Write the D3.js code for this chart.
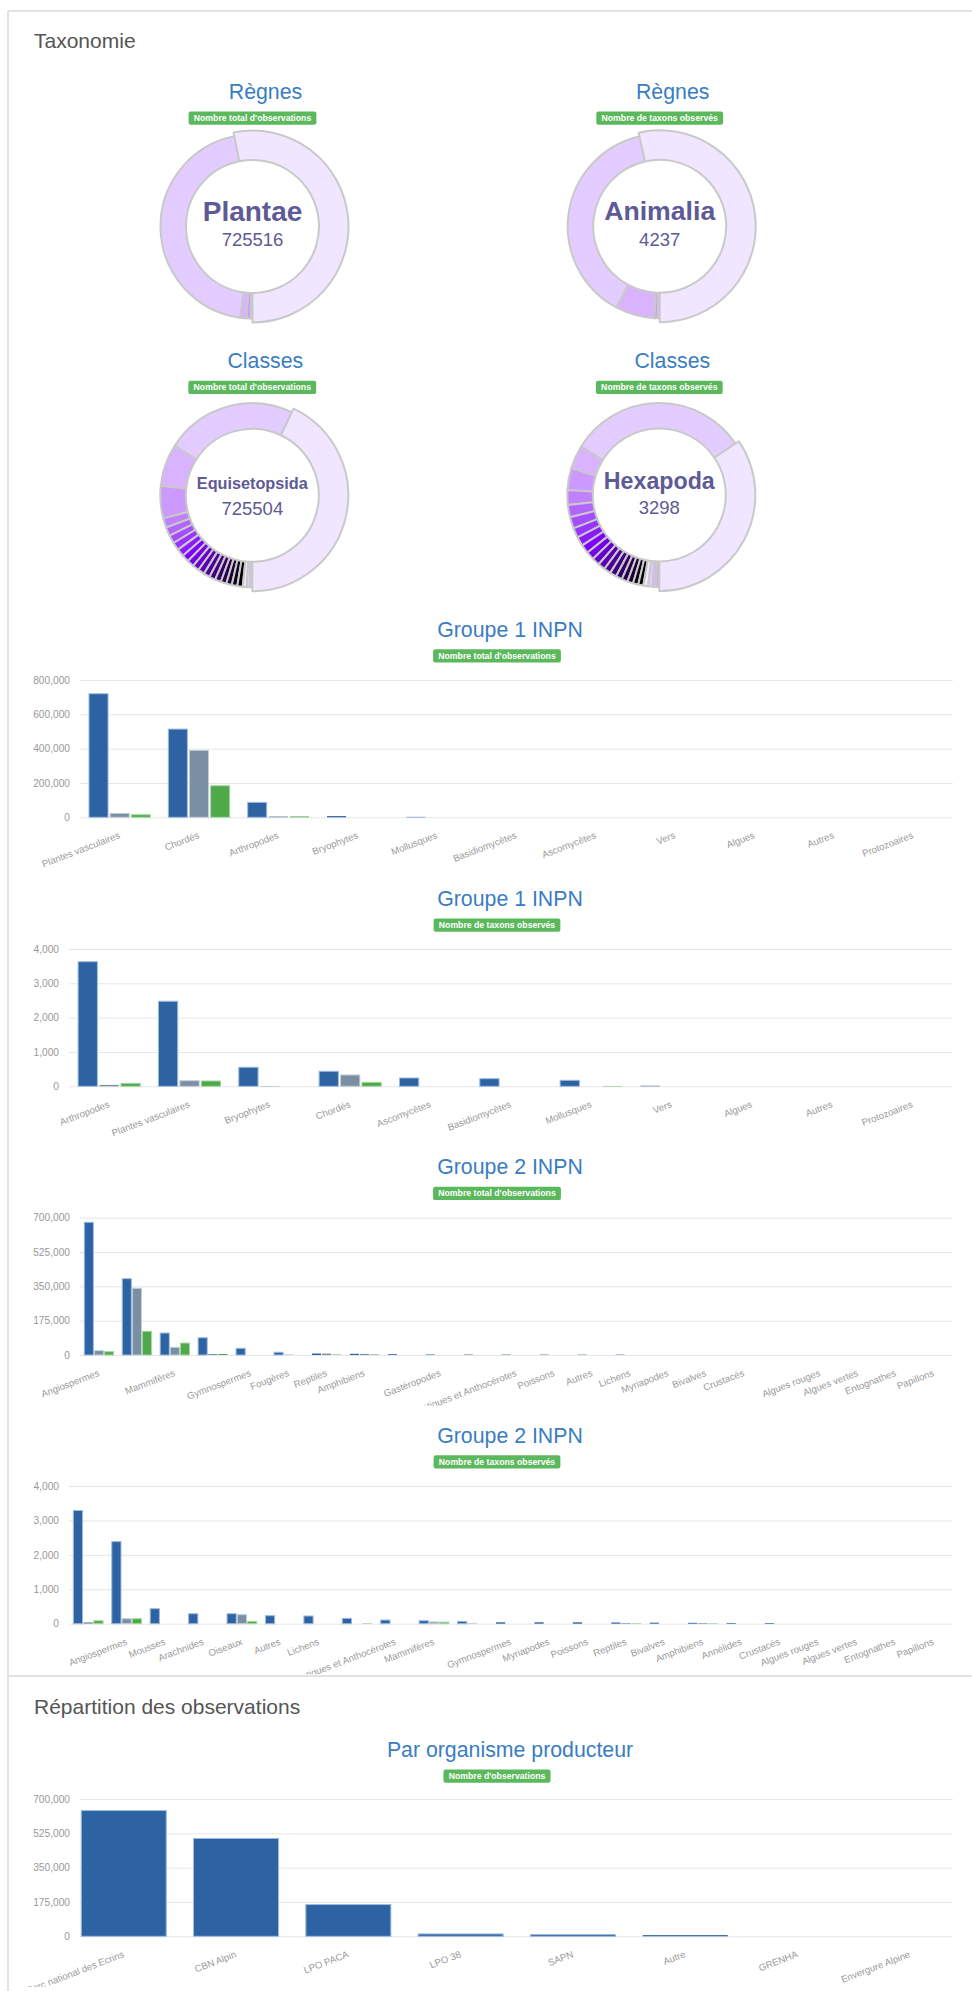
<!DOCTYPE html>
<html lang="fr">
<head>
<meta charset="utf-8">
<title>Taxonomie</title>
<script src="https://cdn.jsdelivr.net/npm/d3@7.9.0/dist/d3.min.js"></script>
<style>
  html, body { margin: 0; padding: 0; background: #fff; }
  svg { display: block; font-family: 'Liberation Sans', Arial, Helvetica, sans-serif; }
</style>
</head>
<body>
<svg id="page" width="972" height="1991"></svg>
<script>
const WIDTH = 972;
const HEIGHT = 1991;

const TITLE_COLOR = '#3a7dc2';
const CENTER_TEXT_COLOR = '#5d5a96';
const SERIES_COLORS = ['#2d62a3', '#7a8fa4', '#4ea94b'];
const SERIES_BORDERS = ['#9dbbe0', '#c3cdd8', '#a6d9a4'];
const PIE_COLORS = [
  '#f1e6ff', '#e3ccff', '#d9b3ff', '#cc99ff', '#c080ff', '#b366ff', '#a64dff',
  '#9933ff', '#8c1aff', '#8000ff', '#7300e6', '#6600cc', '#5900b3', '#4d0099',
  '#400080', '#330066', '#26004d', '#1a0033', '#0d001a', '#000000',
];

// Donuts (sorted descending, first slice = highlighted one)
const regnesObsValues = [725516, 610300, 15200, 9500, 4200];
const regnesTaxaValues = [4237, 3061, 543, 48, 26];
const classesObsValues = [
  725504, 388800, 126300, 95300, 28200, 25800, 24400, 23500, 22500, 21600, 20700,
  19700, 19300, 18800, 18300, 17800, 16900, 16400, 16400, 16000, 11700, 9400, 7000,
];
const classesTaxaValues = [
  3298, 3040, 394, 367, 247, 207, 192, 165, 154, 146, 138, 130, 122, 117, 112,
  106, 101, 96, 90, 85, 80, 74, 61, 51,
];

// Groupe 1 INPN
const groupe1ObsCategories = [
  'Plantes vasculaires', 'Chordés', 'Arthropodes', 'Bryophytes', 'Mollusques',
  'Basidiomycètes', 'Ascomycètes', 'Vers', 'Algues', 'Autres', 'Protozoaires',
];
const groupe1ObsBlue = [720000, 514000, 87000, 7000, 2500, 900, 500, 300, 100, 50, 10];
const groupe1ObsGray = [23000, 390000, 5000, 300, 300, 0, 0, 0, 0, 0, 0];
const groupe1ObsGreen = [15000, 184000, 5000, 200, 200, 0, 0, 0, 0, 0, 0];

const groupe1TaxaCategories = [
  'Arthropodes', 'Plantes vasculaires', 'Bryophytes', 'Chordés', 'Ascomycètes',
  'Basidiomycètes', 'Mollusques', 'Vers', 'Algues', 'Autres', 'Protozoaires',
];
const groupe1TaxaBlue = [3630, 2478, 554, 437, 242, 222, 175, 15, 6, 5, 2];
const groupe1TaxaGray = [40, 163, 10, 330, 0, 0, 0, 0, 0, 0, 0];
const groupe1TaxaGreen = [87, 155, 0, 117, 0, 0, 10, 0, 0, 0, 0];

// Groupe 2 INPN (some categories have no visible label)
const groupe2ObsCategories = [
  'Angiospermes', '', 'Mammifères', '', 'Gymnospermes', 'Fougères', 'Reptiles',
  'Amphibiens', '', 'Gastéropodes', '', 'Hépatiques et Anthocérotes', 'Poissons',
  'Autres', 'Lichens', 'Myriapodes', 'Bivalves', 'Crustacés', '', 'Algues rouges',
  'Algues vertes', 'Entognathes', 'Papillons',
];
const groupe2ObsBlue = [
  676500, 389000, 112000, 88000, 34000, 14000, 7500, 6000, 4000, 2500, 2200, 2000,
  1900, 1800, 1700, 800, 600, 500, 400, 300, 200, 100, 50,
];
const groupe2ObsGray = [
  22000, 340000, 39000, 5000, 500, 1700, 7000, 5500, 300, 200, 100, 100, 100, 100,
  100, 0, 0, 0, 0, 0, 0, 0, 0,
];
const groupe2ObsGreen = [
  17000, 121000, 61000, 5000, 500, 200, 2000, 2500, 100, 100, 0, 0, 0, 0, 0, 0, 0,
  0, 0, 0, 0, 0, 0,
];

const groupe2TaxaCategories = [
  '', 'Angiospermes', 'Mousses', 'Arachnides', 'Oiseaux', 'Autres', 'Lichens', '',
  'Hépatiques et Anthocérotes', 'Mammifères', '', 'Gymnospermes', 'Myriapodes',
  'Poissons', 'Reptiles', 'Bivalves', 'Amphibiens', 'Annélides', 'Crustacés',
  'Algues rouges', 'Algues vertes', 'Entognathes', 'Papillons',
];
const groupe2TaxaBlue = [
  3290, 2384, 436, 290, 290, 233, 224, 155, 107, 87, 67, 40, 40, 40, 35, 30, 25,
  20, 20, 3, 2, 2, 1,
];
const groupe2TaxaGray = [40, 145, 0, 0, 262, 0, 0, 0, 0, 50, 10, 0, 0, 0, 20, 0, 20, 0, 0, 0, 0, 0, 0];
const groupe2TaxaGreen = [87, 145, 0, 0, 67, 0, 0, 10, 0, 45, 0, 0, 0, 0, 10, 0, 10, 0, 0, 0, 0, 0, 0];

// Par organisme producteur
const organismeCategories = [
  'Parc national des Ecrins', 'CBN Alpin', 'LPO PACA', 'LPO 38', 'SAPN', 'Autre',
  'GRENHA', 'Envergure Alpine',
];
const organismeValues = [641000, 499000, 162000, 12000, 9000, 6000, 300, 100];

const ticksObs1 = [0, 200000, 400000, 600000, 800000];
const ticksObs2 = [0, 175000, 350000, 525000, 700000];
const ticksTaxa = [0, 1000, 2000, 3000, 4000];

const svg = d3.select('#page');
let clipCount = 0;

function drawPanels() {
  const lines = [
    [8, 11, WIDTH, 11],
    [8, 11, 8, 1676],
    [8, 1676, WIDTH, 1676],
    [8, 1676, 8, HEIGHT],
  ];
  svg.append('g')
    .selectAll('line')
    .data(lines)
    .join('line')
    .attr('x1', (d) => d[0])
    .attr('y1', (d) => d[1])
    .attr('x2', (d) => d[2])
    .attr('y2', (d) => d[3])
    .attr('stroke', '#e2e2e2')
    .attr('stroke-width', 2);
}

function drawHeading(y, text) {
  svg.append('text')
    .attr('x', 34)
    .attr('y', y)
    .attr('font-size', 21)
    .attr('fill', '#555')
    .text(text);
}

function drawTitle(cx, baseline, text) {
  svg.append('text')
    .attr('x', cx)
    .attr('y', baseline)
    .attr('text-anchor', 'middle')
    .attr('font-size', 21.3)
    .attr('fill', TITLE_COLOR)
    .text(text);
}

function drawBadge(cx, top, text) {
  const g = svg.append('g');
  const label = g.append('text')
    .attr('x', cx)
    .attr('y', top + 9.3)
    .attr('text-anchor', 'middle')
    .attr('font-size', 8.7)
    .attr('font-weight', 'bold')
    .attr('fill', '#fff')
    .text(text);
  const w = label.node().getComputedTextLength() + 10.4;
  g.insert('rect', 'text')
    .attr('x', cx - w / 2)
    .attr('y', top)
    .attr('width', w)
    .attr('height', 13.3)
    .attr('rx', 2.2)
    .attr('fill', '#5cb85c');
}

function drawDonut({ cx, cy, titleBaseline, title, badge, values, label, count }) {
  drawTitle(cx + 13, titleBaseline, title);
  drawBadge(cx, titleBaseline + 12.5, badge);

  const pie = d3.pie().sort(null).startAngle(Math.PI).endAngle(-Math.PI);
  const slices = pie(values);
  const arc = d3.arc().innerRadius(66.5);
  const g = svg.append('g').attr('transform', `translate(${cx},${cy})`);

  g.selectAll('path')
    .data(slices.slice(1).concat(slices.slice(0, 1)))
    .join('path')
    .attr('d', (d) => arc.outerRadius(d.index === 0 ? 96 : 92)(d))
    .attr('fill', (d) => PIE_COLORS[d.index % PIE_COLORS.length])
    .attr('stroke', '#c9c9c9')
    .attr('stroke-width', 2)
    .attr('stroke-linejoin', 'round');

  const name = g.append('text')
    .attr('y', -6)
    .attr('text-anchor', 'middle')
    .attr('font-size', 28)
    .attr('font-weight', 'bold')
    .attr('fill', CENTER_TEXT_COLOR)
    .text(label);
  const nameWidth = name.node().getComputedTextLength();
  if (nameWidth > 111) {
    name.attr('font-size', (28 * 111) / nameWidth);
  }

  g.append('text')
    .attr('y', 19.3)
    .attr('text-anchor', 'middle')
    .attr('font-size', 18.5)
    .attr('fill', CENTER_TEXT_COLOR)
    .text(count);
}

function drawBarChart({
  titleBaseline, title, badge, categories, series, ticks, top, bottom, left,
  right = 952.7, barRange = [left, right], barPadding = 0.2,
}) {
  drawTitle(510, titleBaseline, title);
  drawBadge(497, titleBaseline + 12.5, badge);

  const y = d3.scaleLinear().domain([0, d3.max(ticks)]).range([bottom, top]);
  const x0 = d3.scaleBand()
    .domain(d3.range(categories.length))
    .range(barRange)
    .paddingInner(barPadding)
    .paddingOuter(barPadding / 2);
  const x1 = d3.scaleBand()
    .domain(d3.range(series.length))
    .range([0, x0.bandwidth()])
    .paddingInner(series.length > 1 ? 0.1 : 0)
    .paddingOuter(series.length > 1 ? 0.05 : 0);

  const axis = svg.append('g')
    .attr('transform', `translate(${left},0)`)
    .call(
      d3.axisLeft(y)
        .tickValues(ticks)
        .tickFormat(d3.format(','))
        .tickSize(-(right - left))
        .tickPadding(10),
    );
  axis.select('.domain').remove();
  axis.selectAll('line').attr('stroke', '#e6e6e6');
  axis.selectAll('text')
    .attr('fill', '#999')
    .attr('font-size', 10.2)
    .attr('font-family', "'Liberation Sans', Arial, sans-serif");

  const bars = series.flatMap((values, s) =>
    values.map((value, i) => ({ value, i, s })),
  ).filter((d) => bottom - y(d.value) >= 0.3);

  svg.append('g')
    .selectAll('rect')
    .data(bars)
    .join('rect')
    .attr('x', (d) => x0(d.i) + x1(d.s))
    .attr('y', (d) => y(d.value))
    .attr('width', x1.bandwidth())
    .attr('height', (d) => bottom - y(d.value))
    .attr('fill', (d) => SERIES_COLORS[d.s])
    .attr('stroke', (d) => (bottom - y(d.value) >= 1.5 ? SERIES_BORDERS[d.s] : 'none'))
    .attr('stroke-width', 1);

  clipCount += 1;
  const clipId = `labels-clip-${clipCount}`;
  svg.append('clipPath')
    .attr('id', clipId)
    .append('rect')
    .attr('x', 0)
    .attr('y', bottom)
    .attr('width', WIDTH)
    .attr('height', 50.5);

  svg.append('g')
    .attr('clip-path', `url(#${clipId})`)
    .selectAll('text')
    .data(categories)
    .join('text')
    .attr('transform', (d, i) =>
      `translate(${x0(i) + x0.bandwidth() / 2 + 1},${bottom + 20.5}) rotate(-21)`)
    .attr('text-anchor', 'end')
    .attr('font-size', 9.6)
    .attr('fill', '#999')
    .text((d) => d);
}

drawPanels();
drawHeading(48, 'Taxonomie');

drawDonut({
  cx: 252.5, cy: 226.5, titleBaseline: 99, title: 'Règnes',
  badge: "Nombre total d'observations", values: regnesObsValues,
  label: 'Plantae', count: '725516',
});
drawDonut({
  cx: 659.7, cy: 226.3, titleBaseline: 99, title: 'Règnes',
  badge: 'Nombre de taxons observés', values: regnesTaxaValues,
  label: 'Animalia', count: '4237',
});
drawDonut({
  cx: 252.3, cy: 495.3, titleBaseline: 368.3, title: 'Classes',
  badge: "Nombre total d'observations", values: classesObsValues,
  label: 'Equisetopsida', count: '725504',
});
drawDonut({
  cx: 659.3, cy: 495, titleBaseline: 368.3, title: 'Classes',
  badge: 'Nombre de taxons observés', values: classesTaxaValues,
  label: 'Hexapoda', count: '3298',
});

drawBarChart({
  titleBaseline: 636.7, title: 'Groupe 1 INPN', badge: "Nombre total d'observations",
  categories: groupe1ObsCategories,
  series: [groupe1ObsBlue, groupe1ObsGray, groupe1ObsGreen],
  ticks: ticksObs1, top: 680, bottom: 817.3, left: 80,
});
drawBarChart({
  titleBaseline: 906, title: 'Groupe 1 INPN', badge: 'Nombre de taxons observés',
  categories: groupe1TaxaCategories,
  series: [groupe1TaxaBlue, groupe1TaxaGray, groupe1TaxaGreen],
  ticks: ticksTaxa, top: 949, bottom: 1086.3, left: 69,
});
drawBarChart({
  titleBaseline: 1174.3, title: 'Groupe 2 INPN', badge: "Nombre total d'observations",
  categories: groupe2ObsCategories,
  series: [groupe2ObsBlue, groupe2ObsGray, groupe2ObsGreen],
  ticks: ticksObs2, top: 1217.7, bottom: 1355, left: 80,
});
drawBarChart({
  titleBaseline: 1442.7, title: 'Groupe 2 INPN', badge: 'Nombre de taxons observés',
  categories: groupe2TaxaCategories,
  series: [groupe2TaxaBlue, groupe2TaxaGray, groupe2TaxaGreen],
  ticks: ticksTaxa, top: 1486, bottom: 1623.7, left: 69,
});

drawHeading(1714, 'Répartition des observations');

drawBarChart({
  titleBaseline: 1757, title: 'Par organisme producteur', badge: "Nombre d'observations",
  categories: organismeCategories,
  series: [organismeValues],
  ticks: ticksObs2, top: 1799, bottom: 1936.3, left: 80,
  barRange: [67.6, 966], barPadding: 0.243,
});
</script>
</body>
</html>
